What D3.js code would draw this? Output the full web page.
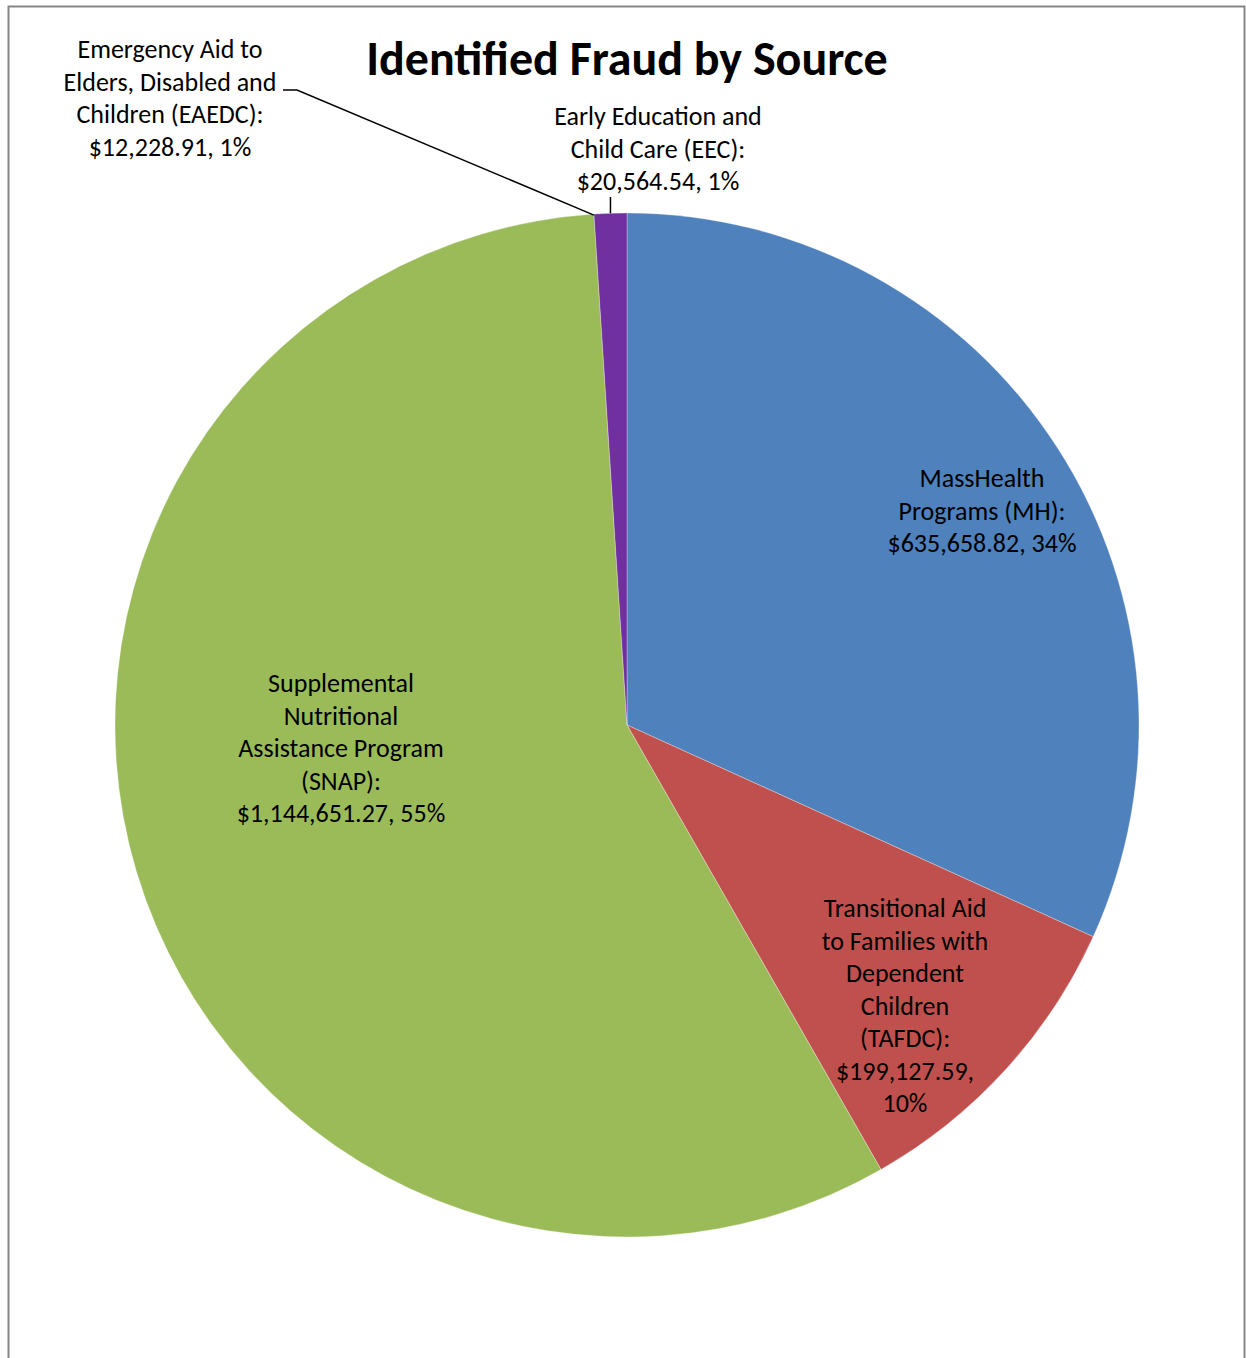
<!DOCTYPE html>
<html>
  <head>
    <meta charset="UTF-8">
    <title>Identified Fraud by Source</title>
    <script src="https://d3js.org/d3.v7.min.js" charset="utf-8"></script>
    <style>
      body { margin: 0; background: #fff; }
    </style>
  </head>
  <body>
    <script>
        var w = 1246;
        var h = 1358;

        // data
        var categories = ["MH", "TAFDC", "SNAP", "EAEDC", "EEC"];
        var labelNames = [
            ["MassHealth", "Programs (MH):"],
            ["Transitional Aid", "to Families with", "Dependent", "Children", "(TAFDC):"],
            ["Supplemental", "Nutritional", "Assistance Program", "(SNAP):"],
            ["Emergency Aid to", "Elders, Disabled and", "Children (EAEDC):"],
            ["Early Education and", "Child Care (EEC):"]
        ];
        var amounts = [635658.82, 199127.59, 1144651.27, 12228.91, 20564.54];
        var percentLabels = ["34%", "10%", "55%", "1%", "1%"];
        // EAEDC is labelled in the original chart but its slice is not plotted
        var plotted = [true, true, true, false, true];
        var colors = ["#4F81BD", "#C0504D", "#9BBB59", "#8064A2", "#7030A0"];

        // label layout (centre x, first line centre y, value on two lines)
        var labelLayout = {
            MH:    {x: 982, y: 478, split: false},
            TAFDC: {x: 905, y: 908, split: true},
            SNAP:  {x: 341, y: 683, split: false},
            EAEDC: {x: 170, y: 49,  split: false},
            EEC:   {x: 658, y: 116, split: false}
        };

        var fontFamily = "Carlito, Lato, 'Open Sans', sans-serif";
        var lineH = 32.5;

        var svg = d3.select("body").append("svg")
            .attr("width", w)
            .attr("height", h);

        // chart border
        svg.append("rect")
            .attr("x", 8.5)
            .attr("y", 6.5)
            .attr("width", 1236)
            .attr("height", 1400)
            .attr("fill", "#fff")
            .attr("stroke", "#868686")
            .attr("stroke-width", 2);

        // title
        svg.append("text")
            .text("Identified Fraud by Source")
            .attr("x", 627)
            .attr("y", 75)
            .attr("text-anchor", "middle")
            .attr("font-family", fontFamily)
            .attr("font-weight", "bold")
            .attr("font-size", "48px")
            .attr("fill", "#000");

        var cx = 627, cy = 725, r = 512;

        var ds = categories.map(function(c, i){
            return {key: c, value: amounts[i], plotted: plotted[i], color: colors[i],
                    names: labelNames[i], pct: percentLabels[i]};
        });

        var pie = d3.pie()
            .sort(null)
            .value(function(d){ return d.plotted ? d.value : 0; });

        var arc = d3.arc().innerRadius(0).outerRadius(r);

        var arcs = pie(ds);

        var g = svg.append("g").attr("transform", "translate(" + cx + "," + cy + ")");

        g.selectAll("path")
            .data(arcs.filter(function(a){ return a.endAngle > a.startAngle; }))
            .enter()
            .append("path")
            .attr("d", arc)
            .attr("fill", function(a){ return a.data.color; })
            .attr("stroke", "#fff")
            .attr("stroke-width", 0.6)
            .attr("stroke-opacity", 0.5);

        var fmt = d3.format("$,.2f");

        // leader lines for the small slices
        function edgePoint(angle){
            return [cx + r * Math.sin(angle), cy - r * Math.cos(angle)];
        }
        var eaedc = arcs[3];
        var pE = edgePoint(eaedc.startAngle);
        svg.append("polyline")
            .attr("points", [[pE[0], pE[1] + 1], [297, 90], [283, 90]].join(" "))
            .attr("fill", "none")
            .attr("stroke", "#000")
            .attr("stroke-width", 1.5);

        var eec = arcs[4];
        var pC = edgePoint((eec.startAngle + eec.endAngle) / 2);
        svg.append("line")
            .attr("x1", pC[0]).attr("y1", pC[1])
            .attr("x2", pC[0]).attr("y2", 197)
            .attr("stroke", "#000")
            .attr("stroke-width", 1.5);

        // data labels
        ds.forEach(function(d){
            var lay = labelLayout[d.key];
            var lines = d.names.slice();
            if (lay.split) {
                lines.push(fmt(d.value) + ",");
                lines.push(d.pct);
            } else {
                lines.push(fmt(d.value) + ", " + d.pct);
            }
            var t = svg.append("text")
                .attr("text-anchor", "middle")
                .attr("font-family", fontFamily)
                .attr("font-size", "26px")
                .attr("fill", "#000");
            lines.forEach(function(line, i){
                t.append("tspan")
                    .attr("x", lay.x)
                    .attr("y", lay.y + i * lineH)
                    .attr("dy", "0.35em")
                    .text(line);
            });
        });
    </script>
  </body>
</html>
